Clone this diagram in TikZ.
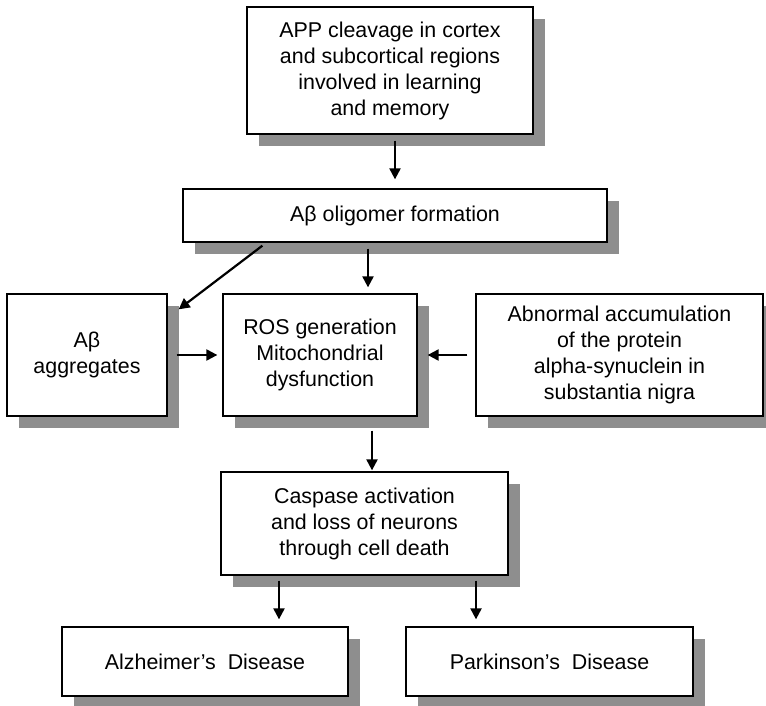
\documentclass[tikz,border=0pt]{standalone}
\usepackage{fontspec}
\setmainfont{Liberation Sans}
\usepackage{tikz}
\usetikzlibrary{arrows.meta,positioning,shadows}
\definecolor{shadegray}{HTML}{8E8E8E}

\begin{document}
\begin{tikzpicture}[x=1pt, y=-1pt,
  stage/.style={draw, line width=1.3pt, fill=white, align=center, inner sep=0pt,
    font=\fontsize{21.4}{26}\selectfont,
    general shadow={fill=shadegray, shadow xshift=12pt, shadow yshift=-12pt}},
  arr/.style={-{Triangle[length=11pt, width=11pt]}, line width=2.2pt}
]
  \useasboundingbox (0,0) rectangle (766,706);
  % boxes
  \node[stage, minimum width=286pt, minimum height=127pt] (app) at (390,70.5)
    {APP cleavage in cortex\\and subcortical regions\\involved in learning\\and memory};
  \node[stage, minimum width=424pt, minimum height=53pt] (olig) at (395,215.5)
    {Aβ oligomer formation};
  \node[stage, minimum width=160pt, minimum height=122pt] (aggr) at (87,355)
    {Aβ\\aggregates};
  \node[stage, minimum width=194pt, minimum height=122pt] (ros) at (320,355)
    {ROS generation\\Mitochondrial\\dysfunction};
  \node[stage, minimum width=287pt, minimum height=122pt] (abn) at (619.5,355)
    {Abnormal accumulation\\of the protein\\alpha-synuclein in\\substantia nigra};
  \node[stage, minimum width=287pt, minimum height=103pt] (casp) at (364.5,523.5)
    {Caspase activation\\and loss of neurons\\through cell death};
  \node[stage, minimum width=286pt, minimum height=69pt] (alz) at (205,661.5)
    {Alzheimer’s~~Disease};
  \node[stage, minimum width=287pt, minimum height=69pt] (park) at (549.5,661.5)
    {Parkinson’s~~Disease};
  % arrows
  \draw[arr, shorten <=6pt, shorten >=9pt] (app.south -| olig.north) -- (olig.north);
  \draw[arr, shorten <=6pt, shorten >=6pt] ([xshift=48pt]ros.north |- olig.south) -- ([xshift=48pt]ros.north);
  \draw[arr, shorten <=5pt] ([xshift=84pt]olig.south west) -- ([shift={(11,16)}]aggr.north east);
  \draw[arr, shorten <=9pt, shorten >=5pt] (aggr) -- (ros);
  \draw[arr, shorten <=8pt, shorten >=10pt] (abn) -- (ros);
  \draw[arr, shorten <=14pt, shorten >=1pt] ([xshift=52pt]ros.south) -- ([xshift=52pt]ros.south |- casp.north);
  \draw[arr, shorten <=5pt, shorten >=7pt] ([xshift=-85.5pt]casp.south) -- ([xshift=-85.5pt]casp.south |- alz.north);
  \draw[arr, shorten <=5pt, shorten >=7pt] ([xshift=111.5pt]casp.south) -- ([xshift=111.5pt]casp.south |- park.north);
\end{tikzpicture}
\end{document}
